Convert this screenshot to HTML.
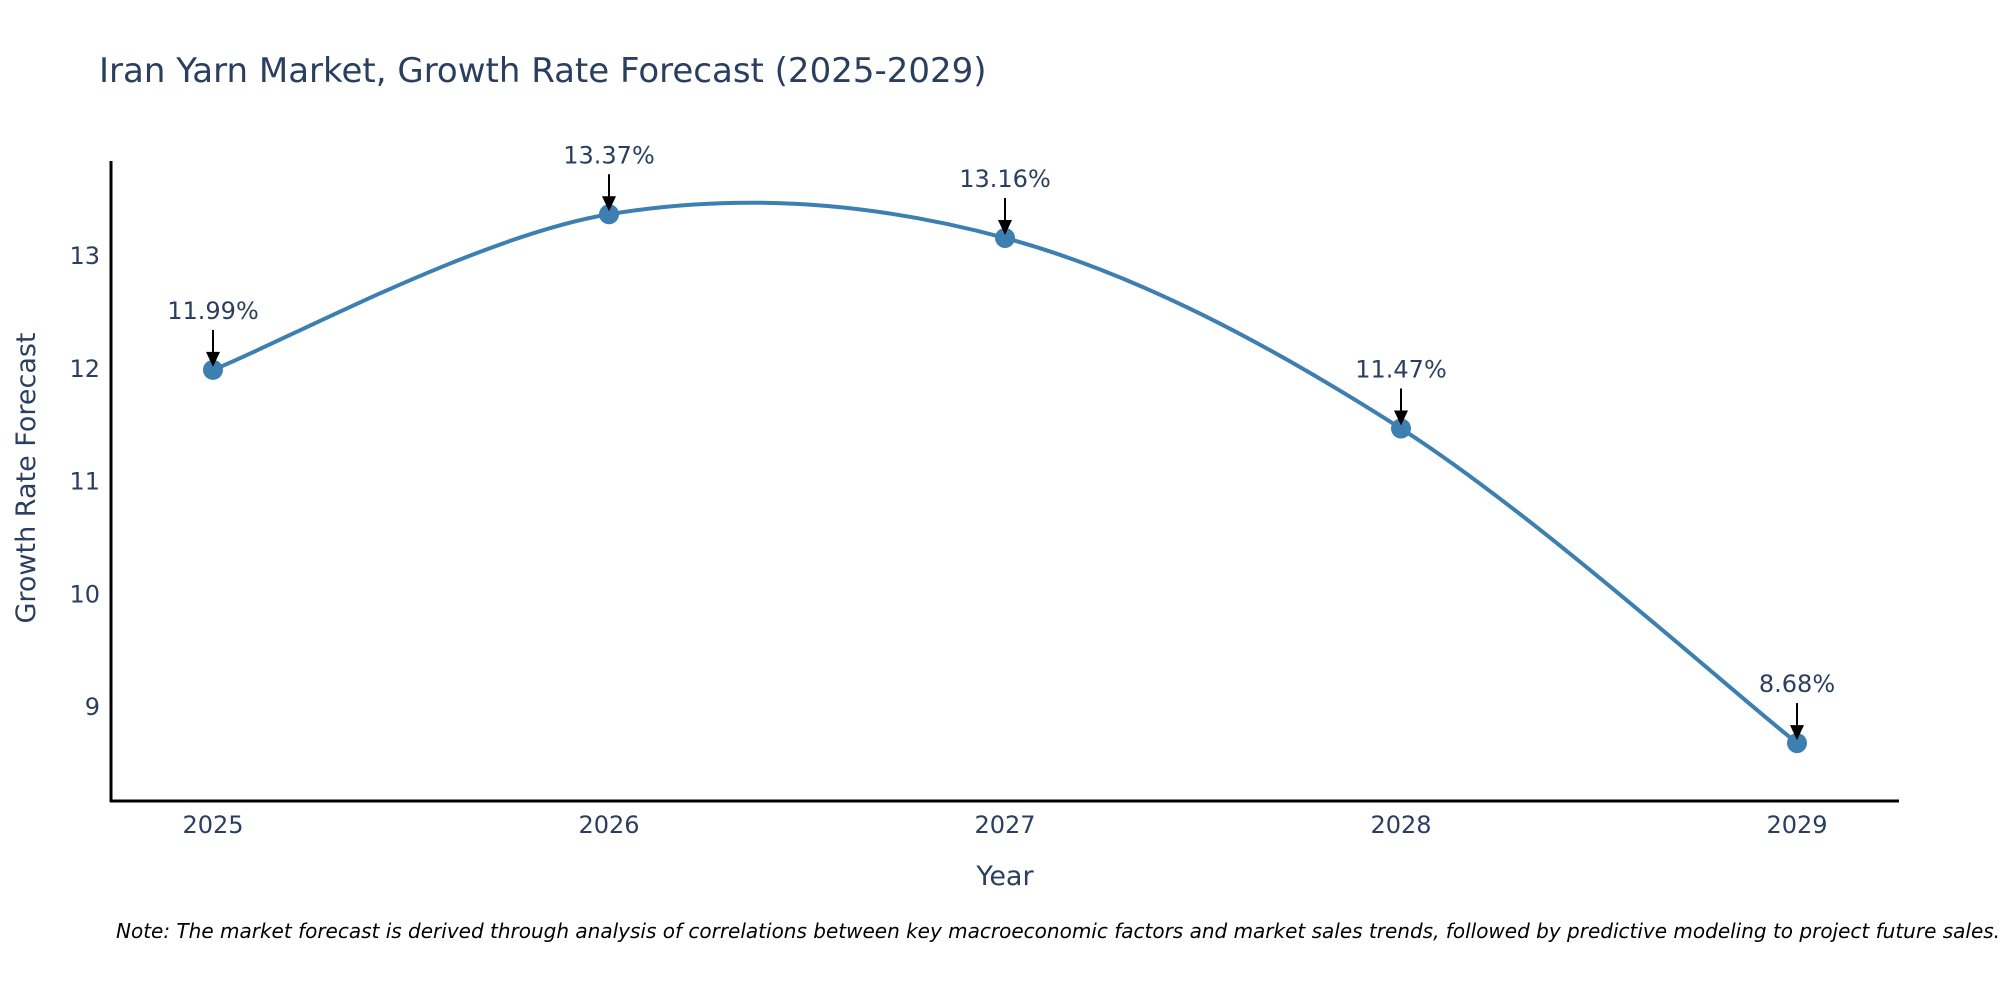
<!DOCTYPE html>
<html><head><meta charset="utf-8"><style>
html,body{margin:0;padding:0;background:#fff}
svg{display:block;font-family:"DejaVu Sans","Liberation Sans",sans-serif}
</style></head><body>
<svg id="chart" width="2000" height="1000" viewBox="0 0 2000 1000">
<text x="99" y="82" font-size="34" fill="#2a3f5f">Iran Yarn Market, Growth Rate Forecast (2025-2029)</text>
<g id="yticks"></g>
<g id="xticks"></g>
<path id="line" fill="none" stroke="#3d7fb0" stroke-width="4"></path>
<g id="points"></g>
<g id="annots"></g>
<line x1="111" y1="161" x2="111" y2="802" stroke="#000" stroke-width="3"/>
<line x1="110" y1="801" x2="1899" y2="801" stroke="#000" stroke-width="3"/>
<text x="1005" y="885" font-size="27" fill="#2a3f5f" text-anchor="middle">Year</text>
<text transform="translate(35,478) rotate(-90)" font-size="27" fill="#2a3f5f" text-anchor="middle">Growth Rate Forecast</text>
<text x="116" y="938" font-size="20" font-style="italic" fill="#000">Note: The market forecast is derived through analysis of correlations between key macroeconomic factors and market sales trends, followed by predictive modeling to project future sales.</text>
</svg>
<script>
const years = [2025, 2026, 2027, 2028, 2029];
const values = [11.99, 13.37, 13.16, 11.47, 8.68];
const labels = ["11.99%", "13.37%", "13.16%", "11.47%", "8.68%"];
const yTicks = [9, 10, 11, 12, 13];

const NS = "http://www.w3.org/2000/svg";
function xs(v){ return 213 + (v - 2025) * 396; }
function ys(v){ return 256 + (13 - v) * 112.75; }
function mk(tag, attrs, parent){
  const e = document.createElementNS(NS, tag);
  for (const k in attrs) e.setAttribute(k, attrs[k]);
  parent.appendChild(e);
  return e;
}
const yt = document.getElementById('yticks');
yTicks.forEach(t => {
  const e = mk('text', {x: 100, y: ys(t) + 8, 'font-size': 24, fill: '#2a3f5f', 'text-anchor': 'end'}, yt);
  
  
  e.textContent = t;
});
const xt = document.getElementById('xticks');
years.forEach(y => {
  const e = mk('text', {x: xs(y), y: 833, 'font-size': 24, fill: '#2a3f5f', 'text-anchor': 'middle'}, xt);
  
  
  e.textContent = y;
});
const pts = years.map((y, i) => [xs(y), ys(values[i])]);
let d = "M" + pts[0][0] + "," + pts[0][1];
for (let i = 0; i < pts.length - 1; i++) {
  const p0 = pts[Math.max(0, i - 1)], p1 = pts[i], p2 = pts[i + 1], p3 = pts[Math.min(pts.length - 1, i + 2)];
  const c1 = [p1[0] + (p2[0] - p0[0]) / 6, p1[1] + (p2[1] - p0[1]) / 6];
  const c2 = [p2[0] - (p3[0] - p1[0]) / 6, p2[1] - (p3[1] - p1[1]) / 6];
  d += " C" + c1[0] + "," + c1[1] + " " + c2[0] + "," + c2[1] + " " + p2[0] + "," + p2[1];
}
document.getElementById('line').setAttribute('d', d);
const pg = document.getElementById('points');
const ag = document.getElementById('annots');
pts.forEach((p, i) => {
  const c = mk('circle', {cx: p[0], cy: p[1], r: 10, fill: '#3d7fb0'}, pg);
  
  
  const l = mk('line', {x1: p[0], y1: p[1] - 40, x2: p[0], y2: p[1] - 14, stroke: '#000', 'stroke-width': 2}, ag);
  
  
  const h = mk('polygon', {points: (p[0]-7)+","+(p[1]-18)+" "+(p[0]+7)+","+(p[1]-18)+" "+p[0]+","+(p[1]-3), fill: '#000'}, ag);
  
  
  const t = mk('text', {x: p[0], y: p[1] - 51, 'font-size': 24, fill: '#2a3f5f', 'text-anchor': 'middle'}, ag);
  
  
  t.textContent = labels[i];
});
</script>
</body></html>
